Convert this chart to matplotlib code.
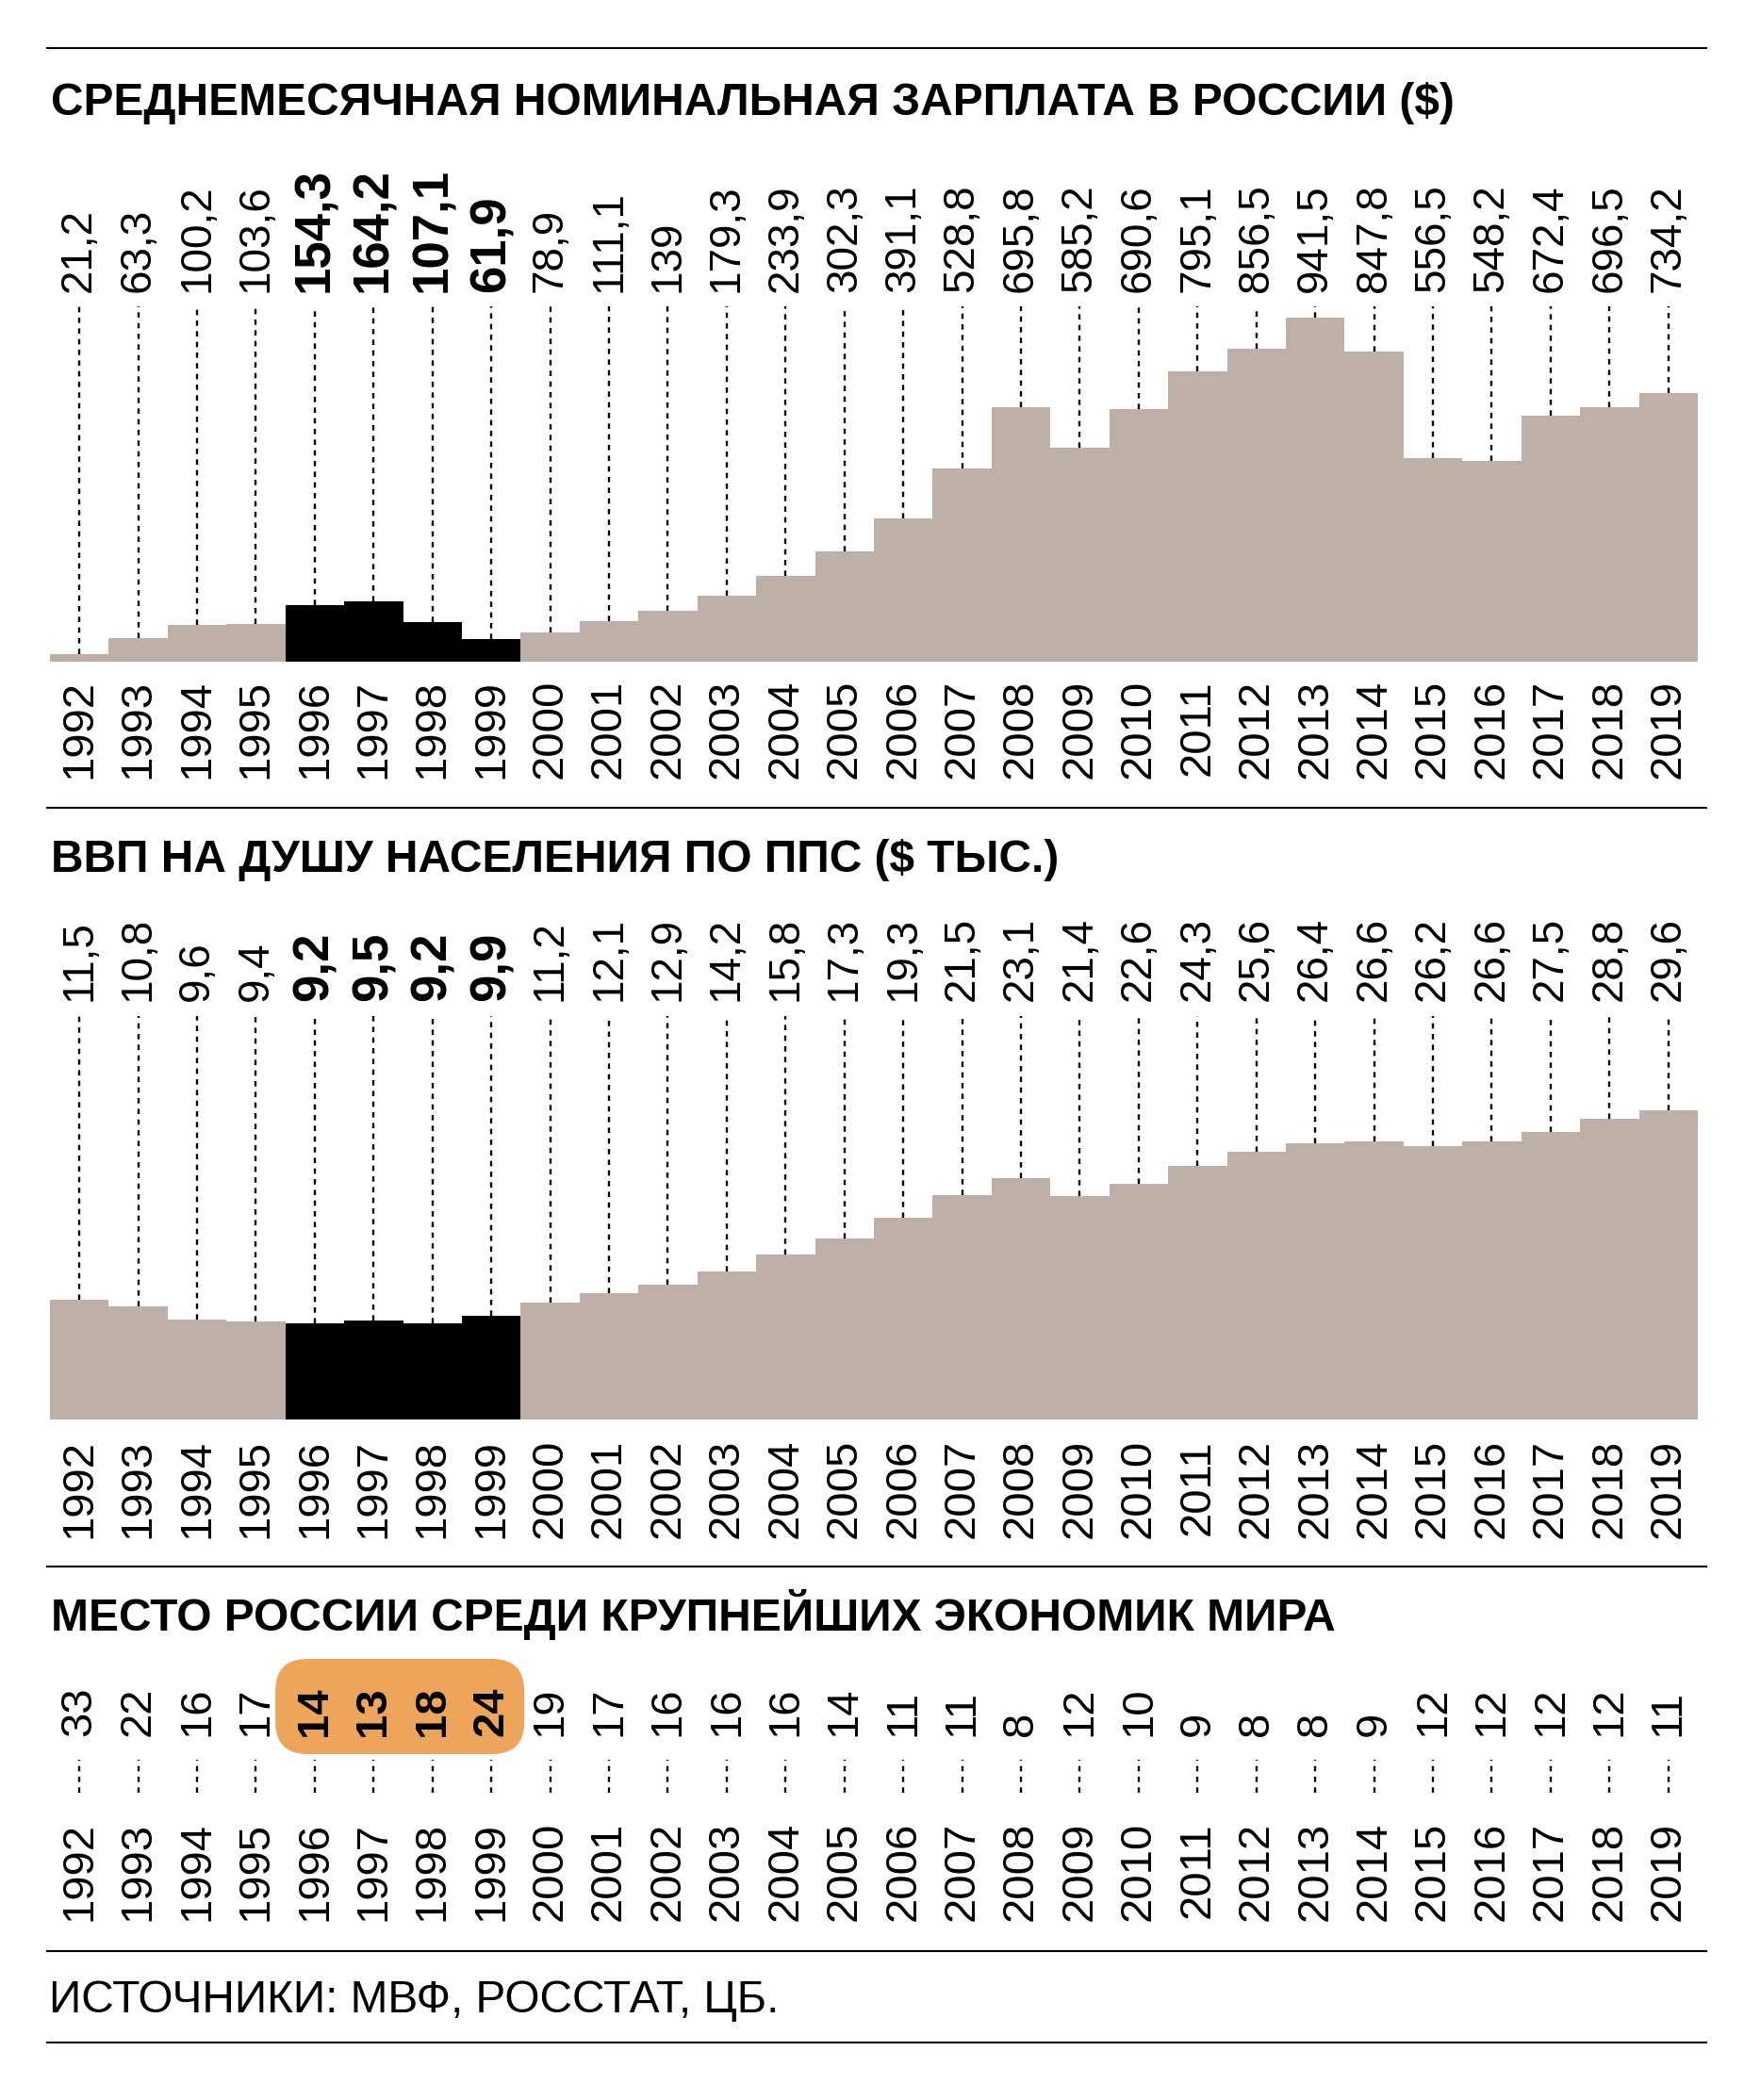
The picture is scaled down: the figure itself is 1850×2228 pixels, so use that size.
import matplotlib
matplotlib.use("Agg")
import matplotlib.pyplot as plt
from matplotlib import transforms
from matplotlib.lines import Line2D
from matplotlib.patches import FancyBboxPatch

# ---------------------------- data ----------------------------
years = [1992, 1993, 1994, 1995, 1996, 1997, 1998, 1999, 2000, 2001,
         2002, 2003, 2004, 2005, 2006, 2007, 2008, 2009, 2010, 2011,
         2012, 2013, 2014, 2015, 2016, 2017, 2018, 2019]
wage = [21.2, 63.3, 100.2, 103.6, 154.3, 164.2, 107.1, 61.9, 78.9, 111.1,
        139, 179.3, 233.9, 302.3, 391.1, 528.8, 695.8, 585.2, 690.6, 795.1,
        856.5, 941.5, 847.8, 556.5, 548.2, 672.4, 696.5, 734.2]
gdp = [11.5, 10.8, 9.6, 9.4, 9.2, 9.5, 9.2, 9.9, 11.2, 12.1,
       12.9, 14.2, 15.8, 17.3, 19.3, 21.5, 23.1, 21.4, 22.6, 24.3,
       25.6, 26.4, 26.6, 26.2, 26.6, 27.5, 28.8, 29.6]
rank = [33, 22, 16, 17, 14, 13, 18, 24, 19, 17,
        16, 16, 16, 14, 11, 11, 8, 12, 10, 9,
        8, 8, 9, 12, 12, 12, 12, 11]
crisis = [1996, 1997, 1998, 1999]

titles = ["СРЕДНЕМЕСЯЧНАЯ НОМИНАЛЬНАЯ ЗАРПЛАТА В РОССИИ ($)",
          "ВВП НА ДУШУ НАСЕЛЕНИЯ ПО ППС ($ ТЫС.)",
          "МЕСТО РОССИИ СРЕДИ КРУПНЕЙШИХ ЭКОНОМИК МИРА"]
source = "ИСТОЧНИКИ: МВФ, РОССТАТ, ЦБ."

BEIGE = "#BEB0A6"
ORANGE = "#EDA55C"
FONT = ["Liberation Sans", "DejaVu Sans"]
DASH = (0, (2.4, 2.4))

W, H = 1850, 2228
fig = plt.figure(figsize=(W / 100, H / 100), dpi=100)
fig.patch.set_facecolor("white")
# pixel coords measured from the top-left corner
PX = transforms.Affine2D().scale(1 / W, -1 / H).translate(0, 1) + fig.transFigure
PXUP = transforms.Affine2D().scale(1 / W, 1 / H) + fig.transFigure

X0, X1 = 53, 1801


def add_axes_px(top, bottom):
    ax = fig.add_axes([X0 / W, 1 - bottom / H, (X1 - X0) / W, (bottom - top) / H])
    ax.set_xlim(years[0] - 0.5, years[-1] + 0.5)
    ax.axis("off")
    return ax


def fmt(v):
    return f"{v:g}".replace(".", ",")


def year_labels(ax, top_px):
    tr = transforms.blended_transform_factory(ax.transData, PX)
    for yr in years:
        ax.text(yr, top_px, str(yr), transform=tr, rotation=90, ha="center", va="top",
                fontsize=34, family=FONT, clip_on=False)


def bar_panel(values, top_px, bottom_px, max_px, label_px, years_px):
    ax = add_axes_px(top_px, bottom_px)
    vmax = max(values)
    ax.set_ylim(0, vmax * (bottom_px - top_px) / (bottom_px - max_px))
    colors = ["black" if y in crisis else BEIGE for y in years]
    ax.bar(years, values, width=1.0, color=colors, linewidth=0, zorder=2)
    ax.vlines(years, values, ax.get_ylim()[1], colors="black", linestyles=DASH,
              linewidth=1.7, zorder=1)
    tr = transforms.blended_transform_factory(ax.transData, PX)
    for yr, v in zip(years, values):
        hot = yr in crisis
        ax.text(yr, label_px, fmt(v), transform=tr, rotation=90, ha="center", va="bottom",
                fontsize=38 if hot else 33, family=FONT,
                fontweight="bold" if hot else "normal", clip_on=False)
    year_labels(ax, years_px)
    return ax


# ---------------------------- rules and titles ----------------------------
for y in [51, 857, 1662, 2070, 2167]:
    fig.add_artist(Line2D([50, 1810], [y, y], transform=PX, color="black", linewidth=1.5))

for t, y in zip(titles, [122, 925, 1730]):
    fig.text(54, y, t, transform=PX, ha="left", va="baseline", fontsize=34.5,
             fontweight="bold", family=FONT)

# ---------------------------- panel 1: wage ----------------------------
bar_panel(wage, 325, 702, 337, 310, 721)

# ---------------------------- panel 2: GDP per capita ----------------------------
bar_panel(gdp, 1078, 1506, 1178, 1062, 1527)

# ---------------------------- panel 3: rank ----------------------------
ax3 = add_axes_px(1867, 1902)
ax3.set_ylim(0, 1)
ax3.vlines(years, 0, 1, colors="black", linestyles=DASH, linewidth=1.7)
tr3 = transforms.blended_transform_factory(ax3.transData, PX)
for yr, r in zip(years, rank):
    ax3.text(yr, 1842, str(r), transform=tr3, rotation=90, ha="center", va="bottom",
             fontsize=34, family=FONT, zorder=5,
             fontweight="bold" if yr in crisis else "normal", clip_on=False)
year_labels(ax3, 1933)

bx0 = ax3.transData.transform((crisis[0] - 0.67, 0))[0]
bx1 = ax3.transData.transform((crisis[-1] + 0.56, 0))[0]
box = FancyBboxPatch((bx0, H - 1861), bx1 - bx0, 101,
                     boxstyle="round,pad=0,rounding_size=34",
                     transform=PXUP, facecolor=ORANGE, edgecolor="none", zorder=0)
fig.add_artist(box)

# ---------------------------- source ----------------------------
fig.text(52, 2135, source, transform=PX, ha="left", va="baseline", fontsize=34.5,
         family=FONT, color="black")

fig.savefig("out.png", dpi=100, facecolor="white")
